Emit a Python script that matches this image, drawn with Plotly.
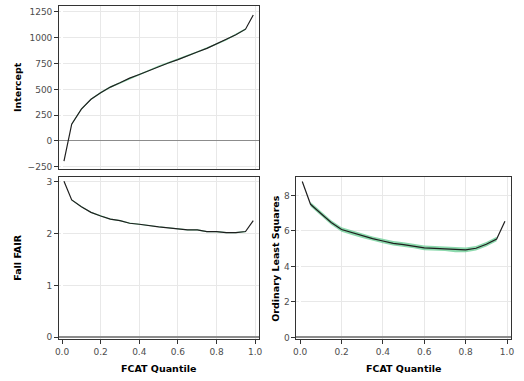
import plotly.graph_objects as go

quantiles = [0.01, 0.05, 0.10, 0.15, 0.20, 0.25, 0.30, 0.35, 0.40, 0.45, 0.50,
             0.55, 0.60, 0.65, 0.70, 0.75, 0.80, 0.85, 0.90, 0.95, 0.99]
intercept = [-195, 163, 308, 404, 468, 522, 564, 609, 644, 683, 724,
             756, 788, 827, 862, 897, 939, 981, 1029, 1083, 1221]
fall_fair = [3.01, 2.65, 2.52, 2.41, 2.34, 2.28, 2.25, 2.20, 2.18, 2.15, 2.13,
             2.11, 2.09, 2.07, 2.07, 2.04, 2.04, 2.02, 2.02, 2.04, 2.25]
ols = [8.78, 7.50, 6.98, 6.47, 6.08, 5.90, 5.73, 5.56, 5.43, 5.30, 5.23,
       5.15, 5.04, 5.02, 4.99, 4.93, 4.93, 5.02, 5.25, 5.54, 6.55]
# half-widths of the confidence bands (shown for 0.05..0.95)
intercept_ci = 8
fall_fair_ci = 0.012
ols_ci = 0.13

W, H = 524, 381
LINE = "#1f1f1f"
BAND = "rgba(102,204,145,0.75)"
GRID = "#e8e8e8"
FRAME = "#333333"

fig = go.Figure()


def add_panel(y, ci, xa, ya):
    qb = quantiles[1:-1]
    yb = y[1:-1]
    upper = [v + ci for v in yb]
    lower = [v - ci for v in yb]
    fig.add_trace(go.Scatter(x=qb + qb[::-1], y=upper + lower[::-1], fill="toself",
                             fillcolor=BAND, line=dict(width=0), mode="lines",
                             hoverinfo="skip", showlegend=False, xaxis=xa, yaxis=ya))
    fig.add_trace(go.Scatter(x=quantiles, y=y, mode="lines",
                             line=dict(color=LINE, width=1.2), showlegend=False,
                             xaxis=xa, yaxis=ya))


add_panel(intercept, intercept_ci, "x", "y")
add_panel(fall_fair, fall_fair_ci, "x2", "y2")
add_panel(ols, ols_ci, "x3", "y3")


def px(a, b):
    return [a / W, b / W]


def py(top, bottom):
    return [1 - bottom / H, 1 - top / H]


tickfont = dict(family="DejaVu Sans", size=9, color="#4d4d4d")
common = dict(showline=True, mirror=True, linecolor=FRAME, linewidth=1,
              showgrid=True, gridcolor=GRID, gridwidth=1,
              ticks="outside", ticklen=4, tickcolor=FRAME, tickfont=tickfont)

xtickvals = [0, 0.2, 0.4, 0.6, 0.8, 1.0]
xticktext = ["0.0", "0.2", "0.4", "0.6", "0.8", "1.0"]

fig.update_layout(
    width=W, height=H,
    margin=dict(l=0, r=0, t=0, b=0),
    paper_bgcolor="white", plot_bgcolor="white",
    xaxis=dict(domain=px(56, 259), range=[-0.015, 1.02], anchor="y",
               tickvals=xtickvals, showticklabels=False, ticks="", **{k: v for k, v in common.items() if k != "ticks"}),
    yaxis=dict(domain=py(6, 170), range=[-268, 1308], anchor="x",
               tickvals=[-250, 0, 250, 500, 750, 1000, 1250],
               zeroline=True, zerolinecolor="#8c8c8c", zerolinewidth=1, **common),
    xaxis2=dict(domain=px(56, 259), range=[-0.015, 1.02], anchor="y2",
                tickvals=xtickvals, ticktext=xticktext, **common),
    yaxis2=dict(domain=py(178, 342), range=[-0.04, 3.1], anchor="x2",
                tickvals=[0, 1, 2, 3], zeroline=True, zerolinecolor="#8c8c8c", **common),
    xaxis3=dict(domain=px(297, 515), range=[-0.018, 1.02], anchor="y3",
                tickvals=xtickvals, ticktext=xticktext, **common),
    yaxis3=dict(domain=py(178, 342), range=[-0.11, 9.06], anchor="x3",
                tickvals=[0, 2, 4, 6, 8], zeroline=True, zerolinecolor="#8c8c8c", **common),
)

ann = [
    dict(text="<b>Intercept</b>", x=14 / W, y=1 - 88 / H, textangle=-90),
    dict(text="<b>Fall FAIR</b>", x=14 / W, y=1 - 260 / H, textangle=-90),
    dict(text="<b>Ordinary Least Squares</b>", x=276 / W, y=1 - 260 / H, textangle=-90),
    dict(text="<b>FCAT Quantile</b>", x=157 / W, y=1 - 371 / H, textangle=0),
    dict(text="<b>FCAT Quantile</b>", x=406 / W, y=1 - 371 / H, textangle=0),
]
for a in ann:
    fig.add_annotation(xref="paper", yref="paper", showarrow=False,
                       xanchor="center", yanchor="middle",
                       font=dict(family="DejaVu Sans", size=9.5, color="black"), **a)

fig.write_html("out.html")
